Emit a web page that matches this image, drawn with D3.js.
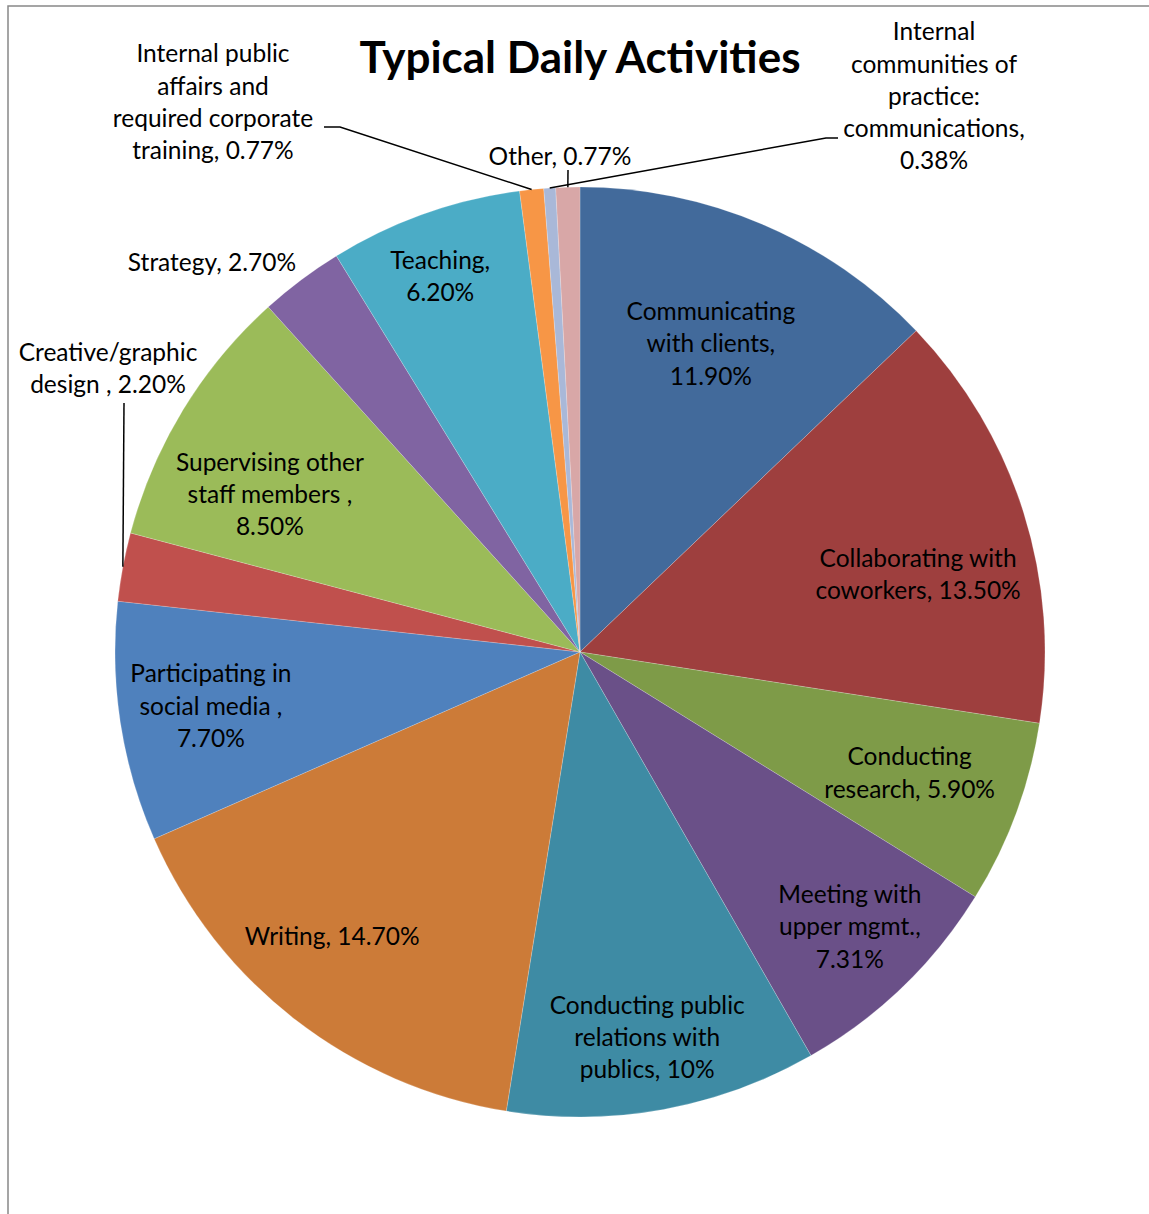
<!DOCTYPE html>
<html>
<head>
<meta charset="utf-8">
<script src="https://cdn.jsdelivr.net/npm/d3@7"></script>
<style>
  body { margin: 0; background: #fff; }
  svg text { font-family: Lato, "Open Sans", sans-serif; fill: #000; }
</style>
</head>
<body>
<svg></svg>
<script>
const width = 1149;
const height = 1214;

const title = "Typical Daily Activities";

const categories = [
  "Communicating with clients",
  "Collaborating with coworkers",
  "Conducting research",
  "Meeting with upper mgmt.",
  "Conducting public relations with publics",
  "Writing",
  "Participating in social media ",
  "Creative/graphic design ",
  "Supervising other staff members ",
  "Strategy",
  "Teaching",
  "Internal public affairs and required corporate training",
  "Internal communities of practice: communications",
  "Other"
];

const values = [11.9, 13.5, 5.9, 7.31, 10, 14.7, 7.7, 2.2, 8.5, 2.7, 6.2, 0.77, 0.38, 0.77];

const valueLabels = ["11.90%", "13.50%", "5.90%", "7.31%", "10%", "14.70%", "7.70%",
  "2.20%", "8.50%", "2.70%", "6.20%", "0.77%", "0.38%", "0.77%"];

// how each data label wraps in the picture
const labelLines = [
  ["Communicating", "with clients,", "11.90%"],
  ["Collaborating with", "coworkers, 13.50%"],
  ["Conducting", "research, 5.90%"],
  ["Meeting with", "upper mgmt.,", "7.31%"],
  ["Conducting public", "relations with", "publics, 10%"],
  ["Writing, 14.70%"],
  ["Participating in", "social media ,", "7.70%"],
  ["Creative/graphic", "design , 2.20%"],
  ["Supervising other", "staff members ,", "8.50%"],
  ["Strategy, 2.70%"],
  ["Teaching,", "6.20%"],
  ["Internal public", "affairs and", "required corporate", "training, 0.77%"],
  ["Internal", "communities of", "practice:", "communications,", "0.38%"],
  ["Other, 0.77%"]
];

const colors = ["#426a9b", "#9e3f3e", "#7e9b48", "#6a5088", "#3e8ba4", "#cc7b38", "#4f81bd",
  "#c0504d", "#9bbb59", "#8064a2", "#4bacc6", "#f79646", "#a9b8d8", "#d8a7a7"];

// label placement: polar (deg clockwise from top, px) for inside labels,
// absolute point for the ones pulled outside the pie
const labelPlace = [
  {a: 23.0, r: 335}, {a: 77.0, r: 347}, {a: 110.1, r: 351}, {a: 135.5, r: 385},
  {a: 170.1, r: 391}, {a: 221.1, r: 377}, {a: 261.7, r: 373},
  {x: 108, y: 368, lead: [[124, 403]]},
  {a: 297.0, r: 348},
  {x: 212, y: 262},
  {a: 339.6, r: 401},
  {x: 213, y: 102, lead: [[324, 127], [340, 127]]},
  {x: 934, y: 96, lead: [[838, 138], [826, 138]]},
  {x: 560, y: 156, lead: [[568, 170]]}
];

const cx = 580, cy = 652, radius = 465;
const fontSize = 24.5;
const lineGap = 32.3;

const svg = d3.select("svg").attr("width", width).attr("height", height);

// chart frame (only top and left edges show in the crop)
svg.append("path")
  .attr("d", `M8,${height} L8,6 L${width},6`)
  .attr("fill", "none")
  .attr("stroke", "#888")
  .attr("stroke-width", 1.5);

svg.append("text")
  .attr("x", 580)
  .attr("y", 73)
  .attr("text-anchor", "middle")
  .style("font-size", "44px")
  .style("font-weight", "bold")
  .text(title);

const pie = d3.pie().sort(null).value(d => d);
const arcs = pie(values);

const arc = d3.arc().innerRadius(0).outerRadius(radius);
const edgeArc = d3.arc().innerRadius(radius).outerRadius(radius);

const g = svg.append("g").attr("transform", `translate(${cx},${cy})`);

g.selectAll("path.slice")
  .data(arcs)
  .enter()
  .append("path")
  .attr("class", "slice")
  .attr("d", arc)
  .attr("fill", (d, i) => colors[i])
  .attr("stroke", "#fff")
  .attr("stroke-width", 0.5)
  .attr("stroke-opacity", 0.4);

const toPoint = (p) => {
  if (p.x !== undefined) return [p.x, p.y];
  const rad = p.a * Math.PI / 180;
  return [cx + p.r * Math.sin(rad), cy - p.r * Math.cos(rad)];
};

// leader lines to the slice edge
arcs.forEach((d, i) => {
  const p = labelPlace[i];
  if (!p.lead) return;
  const [ex, ey] = edgeArc.centroid(d);
  const pts = p.lead.concat([[cx + ex, cy + ey]]);
  svg.append("path")
    .attr("d", d3.line()(pts))
    .attr("fill", "none")
    .attr("stroke", "#000")
    .attr("stroke-width", 1.5);
});

// data labels
labelLines.forEach((lines, i) => {
  const [x, y] = toPoint(labelPlace[i]);
  const t = svg.append("text")
    .attr("text-anchor", "middle")
    .style("font-size", fontSize + "px");
  lines.forEach((ln, j) => {
    t.append("tspan")
      .attr("x", x)
      .attr("y", y + (j - (lines.length - 1) / 2) * lineGap + fontSize * 0.36)
      .text(ln);
  });
});
</script>
</body>
</html>
